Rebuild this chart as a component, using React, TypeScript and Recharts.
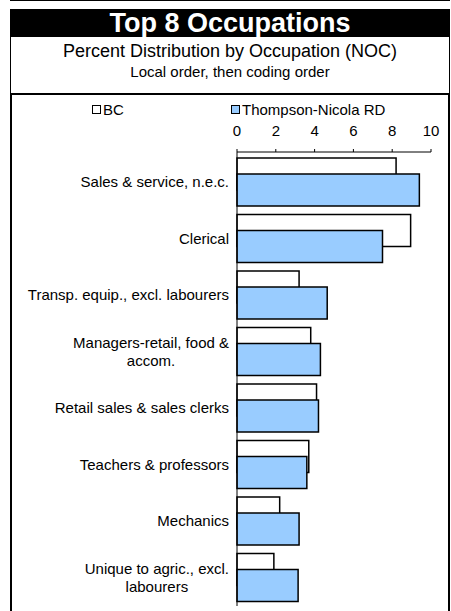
import { BarChart, Bar, XAxis, YAxis, Legend } from "recharts";

const categories = [
  "Sales & service, n.e.c.",
  "Clerical",
  "Transp. equip., excl. labourers",
  "Managers-retail, food &\naccom.",
  "Retail sales & sales clerks",
  "Teachers & professors",
  "Mechanics",
  "Unique to agric., excl.\nlabourers",
];
const bcValues = [8.2, 8.95, 3.2, 3.8, 4.1, 3.7, 2.2, 1.9];
const tnrdValues = [9.4, 7.5, 4.65, 4.3, 4.2, 3.6, 3.2, 3.15];
const xTicks = [0, 2, 4, 6, 8, 10];
const seriesNames = ["BC", "Thompson-Nicola RD"];
const seriesFills = ["#ffffff", "#99ccff"];

const data = categories.map((name, i) => ({
  name,
  bc: bcValues[i],
  tnrd: tnrdValues[i],
}));

const FONT = "'Liberation Sans', Arial, sans-serif";

let ctx: CanvasRenderingContext2D | null = null;
const measure = (s: string) => {
  if (!ctx) {
    ctx = document.createElement("canvas").getContext("2d");
  }
  if (!ctx) return s.length * 7;
  ctx.font = `15px ${FONT}`;
  return ctx.measureText(s).width;
};

// excel-style wrapped label: block right aligned, lines centred
const CategoryTick = ({ x, y, payload }: any) => {
  const lines = String(payload.value).split("\n");
  const lineH = 18;
  const maxW = Math.max(...lines.map(measure));
  const cx = x - maxW / 2;
  const y0 = y - ((lines.length - 1) * lineH) / 2 + 5;
  return (
    <text fontSize={15} fontFamily={FONT} fill="#000" textAnchor="middle">
      {lines.map((l, i) => (
        <tspan key={i} x={cx} y={y0 + i * lineH}>
          {l}
        </tspan>
      ))}
    </text>
  );
};

const legendLeft = [92, 231];

const renderLegend = () => (
  <div style={{ position: "relative", height: 22, width: 451 }}>
    {seriesNames.map((name, i) => (
      <div
        key={name}
        style={{
          position: "absolute",
          left: legendLeft[i],
          top: 2,
          height: 18,
          display: "flex",
          alignItems: "center",
          fontSize: 15,
          fontFamily: FONT,
          color: "#000",
        }}
      >
        <span
          style={{
            display: "inline-block",
            width: 7,
            height: 7,
            border: "1.5px solid #000",
            background: seriesFills[i],
            marginRight: 2,
          }}
        />
        {name}
      </div>
    ))}
  </div>
);

export default function App() {
  return (
    <div
      style={{
        position: "absolute",
        left: 0,
        top: 0,
        width: 451,
        height: 611,
        overflow: "hidden",
        background: "#fff",
        fontFamily: FONT,
      }}
    >
      <div style={{ position: "absolute", left: 10, top: 0, width: 440, height: 1, background: "#000" }} />
      <div
        style={{
          position: "absolute",
          left: 10,
          top: 9,
          width: 440,
          height: 28,
          background: "#000",
          color: "#fff",
          fontWeight: "bold",
          fontSize: 27,
          lineHeight: "28px",
          textAlign: "center",
        }}
      >
        Top 8 Occupations
      </div>
      <div
        style={{
          position: "absolute",
          left: 10,
          top: 37,
          width: 440,
          height: 57,
          boxSizing: "border-box",
          border: "1px solid #000",
          borderTop: "none",
          textAlign: "center",
          color: "#000",
        }}
      >
        <div style={{ fontSize: 18, lineHeight: "20px", marginTop: 4 }}>
          Percent Distribution by Occupation (NOC)
        </div>
        <div style={{ fontSize: 15, lineHeight: "18px", marginTop: 2 }}>
          Local order, then coding order
        </div>
      </div>
      <div
        style={{
          position: "absolute",
          left: 10,
          top: 94,
          width: 440,
          height: 540,
          boxSizing: "border-box",
          borderLeft: "2px solid #000",
          borderRight: "2px solid #000",
          borderTop: "1px solid #000",
        }}
      />
      <div style={{ position: "absolute", left: 0, top: 0 }}>
        <BarChart
          width={451}
          height={611}
          data={data}
          layout="vertical"
          margin={{ top: 98, right: 20, left: 0, bottom: 5 }}
          barSize={32}
          barGap={-16}
        >
          <Legend
            verticalAlign="top"
            content={renderLegend}
            wrapperStyle={{ left: 0, width: 451 }}
          />
          <XAxis
            type="number"
            orientation="top"
            domain={[0, 10]}
            ticks={xTicks}
            height={32}
            tickSize={3}
            tickMargin={13}
            axisLine={{ stroke: "#000" }}
            tickLine={{ stroke: "#000" }}
            tick={{ fill: "#000", fontSize: 15, fontFamily: FONT }}
          />
          <YAxis
            type="category"
            dataKey="name"
            width={237}
            tickSize={0}
            tickMargin={8}
            padding={{ top: 2, bottom: 0 }}
            axisLine={{ stroke: "#000" }}
            tickLine={false}
            tick={<CategoryTick />}
            interval={0}
          />
          <Bar
            dataKey="bc"
            name={seriesNames[0]}
            fill={seriesFills[0]}
            stroke="#000"
            strokeWidth={1.5}
            isAnimationActive={false}
          />
          <Bar
            dataKey="tnrd"
            name={seriesNames[1]}
            fill={seriesFills[1]}
            stroke="#000"
            strokeWidth={1.5}
            isAnimationActive={false}
          />
        </BarChart>
      </div>
    </div>
  );
}
